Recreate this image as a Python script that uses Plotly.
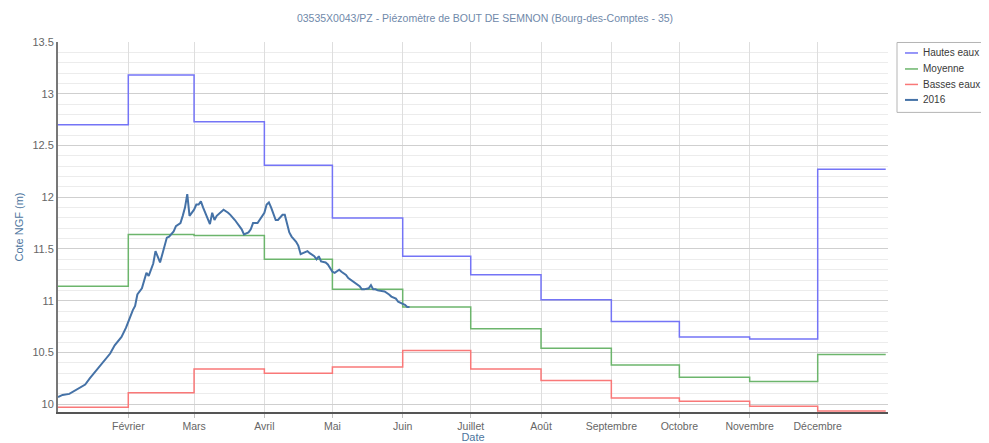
import plotly.graph_objects as go
import pandas as pd

# Monthly reference levels (step lines), one value per month Jan..Dec
month_starts = ["2016-01-01", "2016-02-01", "2016-03-01", "2016-04-01", "2016-05-01", "2016-06-01",
                "2016-07-01", "2016-08-01", "2016-09-01", "2016-10-01", "2016-11-01", "2016-12-01"]
year_end = "2016-12-31"

hautes_eaux = [12.70, 13.18, 12.73, 12.31, 11.80, 11.43, 11.25, 11.01, 10.80, 10.65, 10.63, 12.27]
moyenne = [11.14, 11.64, 11.63, 11.40, 11.11, 10.94, 10.73, 10.54, 10.38, 10.26, 10.22, 10.48]
basses_eaux = [9.97, 10.11, 10.34, 10.30, 10.36, 10.52, 10.34, 10.23, 10.06, 10.03, 9.98, 9.935]

# 2016 observed level: day of year (0 = 1 Jan) and level
days_2016 = [0, 2, 5, 8, 12, 14, 17, 20, 23, 25, 28, 30, 31, 33, 34, 35, 37, 38, 39, 40,
             42, 43, 44, 45, 46, 47, 48, 49, 51, 52, 54, 55, 56, 57, 58, 60, 61, 62, 63, 64,
             65, 66, 67, 68, 69, 70, 72, 73, 75, 76, 78, 79, 80, 81, 82, 84, 85, 86, 88, 89,
             90, 91, 92, 93, 94, 95, 96, 97, 99, 100, 101, 102, 103, 105, 106, 107, 108, 110, 111, 113,
             114, 115, 116, 118, 119, 120, 121, 122, 124, 125, 127, 128, 130, 131, 133, 134, 135, 137, 138, 139,
             140, 141, 143, 144, 146, 147, 149, 150, 152, 153, 154, 155]
level_2016 = [10.07, 10.09, 10.10, 10.14, 10.19, 10.25, 10.33, 10.40, 10.49, 10.57, 10.65, 10.74, 10.80, 10.91, 10.95, 11.06, 11.12, 11.20, 11.27, 11.24,
              11.36, 11.48, 11.43, 11.37, 11.45, 11.54, 11.61, 11.62, 11.67, 11.72, 11.75, 11.82, 11.90, 12.03, 11.82, 11.88, 11.93, 11.93, 11.96, 11.90,
              11.84, 11.80, 11.74, 11.85, 11.78, 11.82, 11.86, 11.88, 11.85, 11.83, 11.78, 11.75, 11.72, 11.69, 11.64, 11.66, 11.69, 11.75, 11.75, 11.78,
              11.82, 11.85, 11.93, 11.95, 11.90, 11.83, 11.78, 11.78, 11.83, 11.83, 11.74, 11.66, 11.62, 11.57, 11.53, 11.45, 11.46, 11.48, 11.46, 11.43,
              11.40, 11.43, 11.38, 11.37, 11.35, 11.32, 11.28, 11.27, 11.30, 11.28, 11.25, 11.22, 11.19, 11.17, 11.14, 11.11, 11.11, 11.12, 11.15, 11.11,
              11.11, 11.10, 11.09, 11.09, 11.06, 11.04, 11.02, 10.99, 10.97, 10.96, 10.94, 10.94]

tick_dates = month_starts[1:]
tick_labels = ["Février", "Mars", "Avril", "Mai", "Juin", "Juillet", "Août",
               "Septembre", "Octobre", "Novembre", "Décembre"]

series_names = ["Hautes eaux", "Moyenne", "Basses eaux", "2016"]
series_colors = ["#7474f6", "#6cb56c", "#f97878", "#4572A7"]

dates_2016 = [(pd.Timestamp("2016-01-01") + pd.Timedelta(days=d)).strftime("%Y-%m-%d") for d in days_2016]
step_x = month_starts + [year_end]

fig = go.Figure()
for name, vals, col in zip(series_names[:3], [hautes_eaux, moyenne, basses_eaux], series_colors[:3]):
    fig.add_trace(go.Scatter(x=step_x, y=vals + [vals[-1]], mode="lines", name=name,
                             line=dict(color=col, width=1.5, shape="hv")))
fig.add_trace(go.Scatter(x=dates_2016, y=level_2016, mode="lines", name=series_names[3],
                         line=dict(color=series_colors[3], width=2)))

# Layout geometry (figure pixels; page adds an 8px body margin)
W, H = 981, 435
L, R, T, B = 50, 101, 33.5, 31
PW, PH = W - L - R, H - T - B


def px_x(px):  # page x pixel -> paper coordinate
    return (px - 8 - L) / PW


def px_y(py):  # page y pixel -> paper coordinate
    return (H - B - (py - 8)) / PH


font = "Liberation Sans, Arial, sans-serif"

# Hand-drawn legend box (compact like the reference)
lx0, lx1, ly0, ly1 = px_x(897), px_x(987.5), px_y(42), px_y(112)
fig.add_shape(type="rect", xref="paper", yref="paper", x0=lx0, x1=lx1, y0=ly1, y1=ly0,
              line=dict(color="#b5b5b5", width=1), fillcolor="white", layer="above")
item_y = [52.5, 68.5, 84, 99.5]
for name, col, yy in zip(series_names, series_colors, item_y):
    fig.add_shape(type="line", xref="paper", yref="paper", x0=px_x(905), x1=px_x(918),
                  y0=px_y(yy), y1=px_y(yy),
                  line=dict(color=col, width=2 if name == "2016" else 1.5), layer="above")
    fig.add_annotation(text=name, xref="paper", yref="paper", x=px_x(921), y=px_y(yy),
                       xanchor="left", yanchor="middle", showarrow=False,
                       font=dict(family=font, size=10, color="#3a3a3a"))

fig.update_layout(
    width=W, height=H,
    margin=dict(l=L, r=R, t=T, b=B, autoexpand=False),
    plot_bgcolor="white", paper_bgcolor="white",
    font=dict(family=font, size=11, color="#666666"),
    title=dict(text="03535X0043/PZ - Piézomètre de BOUT DE SEMNON (Bourg-des-Comptes - 35)",
               x=(485 - 8) / W, xref="container", xanchor="center", y=1 - (18 - 8) / H, yanchor="middle",
               font=dict(family=font, size=10.5, color="#7089aa")),
    showlegend=False,
    xaxis=dict(range=["2016-01-01", "2017-01-01"], tickvals=tick_dates, ticktext=tick_labels,
               showgrid=True, gridcolor="#dedede", gridwidth=1,
               showline=True, linecolor="#555555", linewidth=1.5,
               ticks="outside", ticklen=4, tickcolor="#c0c0c0",
               tickfont=dict(size=10.5, color="#666666"),
               title=dict(text="Date", font=dict(size=11, color="#4d759e"), standoff=6),
               zeroline=False, automargin=False),
    yaxis=dict(range=[9.925, 13.5], tickvals=[10, 10.5, 11, 11.5, 12, 12.5, 13, 13.5],
               ticktext=["10", "10.5", "11", "11.5", "12", "12.5", "13", "13.5"],
               showgrid=True, gridcolor="#cfcfcf", gridwidth=1,
               minor=dict(dtick=0.1, tick0=10, showgrid=True, gridcolor="#ececec", gridwidth=1),
               showline=True, linecolor="#777777", linewidth=2,
               ticks="", tickfont=dict(size=11, color="#666666"),
               title=dict(text="Cote NGF (m)", font=dict(size=11, color="#4d759e"), standoff=7),
               zeroline=False, automargin=False),
)

fig.write_html("out.html")
